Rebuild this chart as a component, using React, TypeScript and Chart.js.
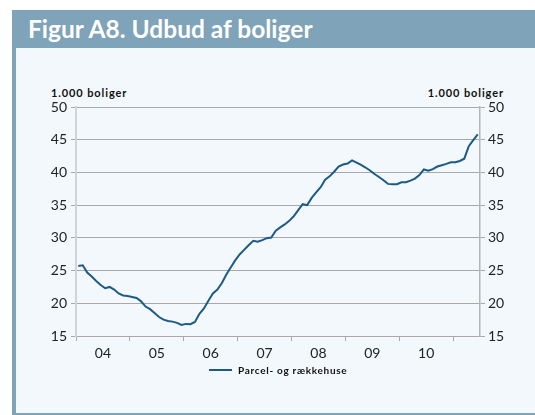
import React, { useEffect, useRef } from 'react';
import { Chart, registerables } from 'chart.js';

Chart.register(...registerables);

// Year labels shown centred under each year span
const yearLabels = ['04', '05', '06', '07', '08', '09', '10'];

// Monthly supply of houses (1.000 boliger), Jan 2004 onwards
const supply = [
  25.7, 25.8, 24.7, 24.1, 23.4, 22.8, 22.3, 22.5, 22.1, 21.5, 21.2, 21.1,
  20.95, 20.8, 20.3, 19.5, 19.1, 18.5, 17.9, 17.5, 17.3, 17.2, 17.0, 16.7,
  16.85, 16.8, 17.15, 18.4, 19.2, 20.4, 21.5, 22.1, 23.1, 24.4, 25.5, 26.6,
  27.5, 28.2, 28.9, 29.55, 29.4, 29.65, 29.95, 30.05, 31.1, 31.6, 32.05, 32.6,
  33.3, 34.25, 35.15, 35.0, 36.1, 36.95, 37.75, 38.9, 39.4, 40.1, 40.9, 41.2,
  41.35, 41.85, 41.5, 41.15, 40.75, 40.3, 39.75, 39.3, 38.8, 38.25, 38.2, 38.2,
  38.5, 38.5, 38.75, 39.05, 39.6, 40.45, 40.25, 40.5, 40.9, 41.1, 41.3, 41.55,
  41.55, 41.75, 42.1, 44.0, 44.95, 45.8,
];

const seriesLabel = 'Parcel- og rækkehuse';
const yMin = 15;
const yMax = 50;
const yStep = 5;
const monthsOnAxis = 90;

const LINE = '#1c5b87';
const GRID = '#a9a9a9';
const FRAME = '#7fa3b9';
const BODY = '#f3f8fc';
const FONT = 'Lato, "Open Sans", sans-serif';

export default function App() {
  const ref = useRef<HTMLCanvasElement>(null);

  useEffect(() => {
    const points = supply.map((v, i) => ({ x: i + 0.5, y: v }));
    const tickFont = { family: FONT, size: 14 };
    const chart = new Chart(ref.current as HTMLCanvasElement, {
      type: 'line',
      data: {
        datasets: [
          {
            label: seriesLabel,
            data: points,
            borderColor: LINE,
            backgroundColor: LINE,
            borderWidth: 2,
            pointRadius: 0,
            tension: 0,
            xAxisID: 'x',
            yAxisID: 'y',
          },
        ],
      },
      options: {
        animation: false,
        responsive: false,
        maintainAspectRatio: false,
        layout: { padding: { top: 47, left: 0, right: 0, bottom: 0 } },
        plugins: { legend: { display: false }, tooltip: { enabled: false } },
        scales: {
          x: {
            type: 'linear',
            min: 0,
            max: monthsOnAxis,
            afterBuildTicks: (s: any) => {
              const t = [];
              for (let v = 0; v <= monthsOnAxis; v += 6) t.push({ value: v });
              s.ticks = t;
            },
            afterFit: (s: any) => {
              s.height = 44;
            },
            ticks: {
              autoSkip: false,
              maxRotation: 0,
              padding: 4,
              color: '#222',
              font: tickFont,
              callback: (value: any) => {
                const v = Number(value);
                if (v % 12 !== 6) return '';
                const idx = (v - 6) / 12;
                return yearLabels[idx] ?? '';
              },
            },
            grid: {
              drawOnChartArea: false,
              drawTicks: true,
              tickLength: 5,
              color: (ctx: any) =>
                ctx.tick && ctx.tick.value % 12 === 0 ? GRID : 'rgba(0,0,0,0)',
              tickColor: (ctx: any) =>
                ctx.tick && ctx.tick.value % 12 === 0 ? GRID : 'rgba(0,0,0,0)',
            },
            border: { display: true, color: GRID, width: 1 },
          },
          y: {
            position: 'left',
            min: yMin,
            max: yMax,
            afterFit: (s: any) => {
              s.width = 60;
            },
            ticks: { stepSize: yStep, padding: 4, color: '#222', font: tickFont },
            grid: { color: GRID, tickLength: 5, lineWidth: 1 },
            border: { display: true, color: '#d3d3d3', width: 2 },
          },
          y2: {
            position: 'right',
            min: yMin,
            max: yMax,
            afterFit: (s: any) => {
              s.width = 55;
            },
            ticks: { stepSize: yStep, padding: 3, color: '#222', font: tickFont },
            grid: { drawOnChartArea: false, color: GRID, tickLength: 5 },
            border: { display: true, color: '#b5b5b5', width: 1.5 },
          },
        },
      },
    });
    return () => chart.destroy();
  }, []);

  const unitStyle: React.CSSProperties = {
    position: 'absolute',
    top: 86,
    fontSize: 11,
    fontWeight: 700,
    letterSpacing: 0.9,
    color: '#111',
    whiteSpace: 'nowrap',
  };

  return (
    <div style={{ position: 'absolute', left: 0, top: 0, width: 535, height: 415, background: '#fff', overflow: 'hidden', fontFamily: FONT }}>
      <div
        style={{
          position: 'absolute',
          left: 12,
          top: 10,
          width: 523,
          height: 38,
          background: FRAME,
          color: '#fff',
          fontWeight: 700,
          fontSize: 24.5,
          lineHeight: '38px',
          paddingLeft: 16,
          boxSizing: 'border-box',
          whiteSpace: 'nowrap',
        }}
      >
        Figur A8. Udbud af boliger
      </div>
      <div
        style={{
          position: 'absolute',
          left: 12,
          top: 48,
          width: 523,
          height: 367,
          background: BODY,
          borderLeft: `4px solid ${FRAME}`,
          borderBottom: `2px solid ${FRAME}`,
          boxSizing: 'border-box',
        }}
      />
      <div style={{ ...unitStyle, left: 51 }}>1.000 boliger</div>
      <div style={{ ...unitStyle, right: 31 }}>1.000 boliger</div>
      <canvas
        ref={ref}
        width={519}
        height={320}
        style={{ position: 'absolute', left: 16, top: 60, width: 519, height: 320 }}
      />
      <div style={{ position: 'absolute', left: 209, top: 362, display: 'flex', alignItems: 'center', height: 16, whiteSpace: 'nowrap' }}>
        <span style={{ display: 'inline-block', width: 23, height: 2, background: LINE, marginRight: 6 }} />
        <span style={{ fontSize: 10, fontWeight: 700, letterSpacing: 0.7, color: '#111' }}>{seriesLabel}</span>
      </div>
    </div>
  );
}
